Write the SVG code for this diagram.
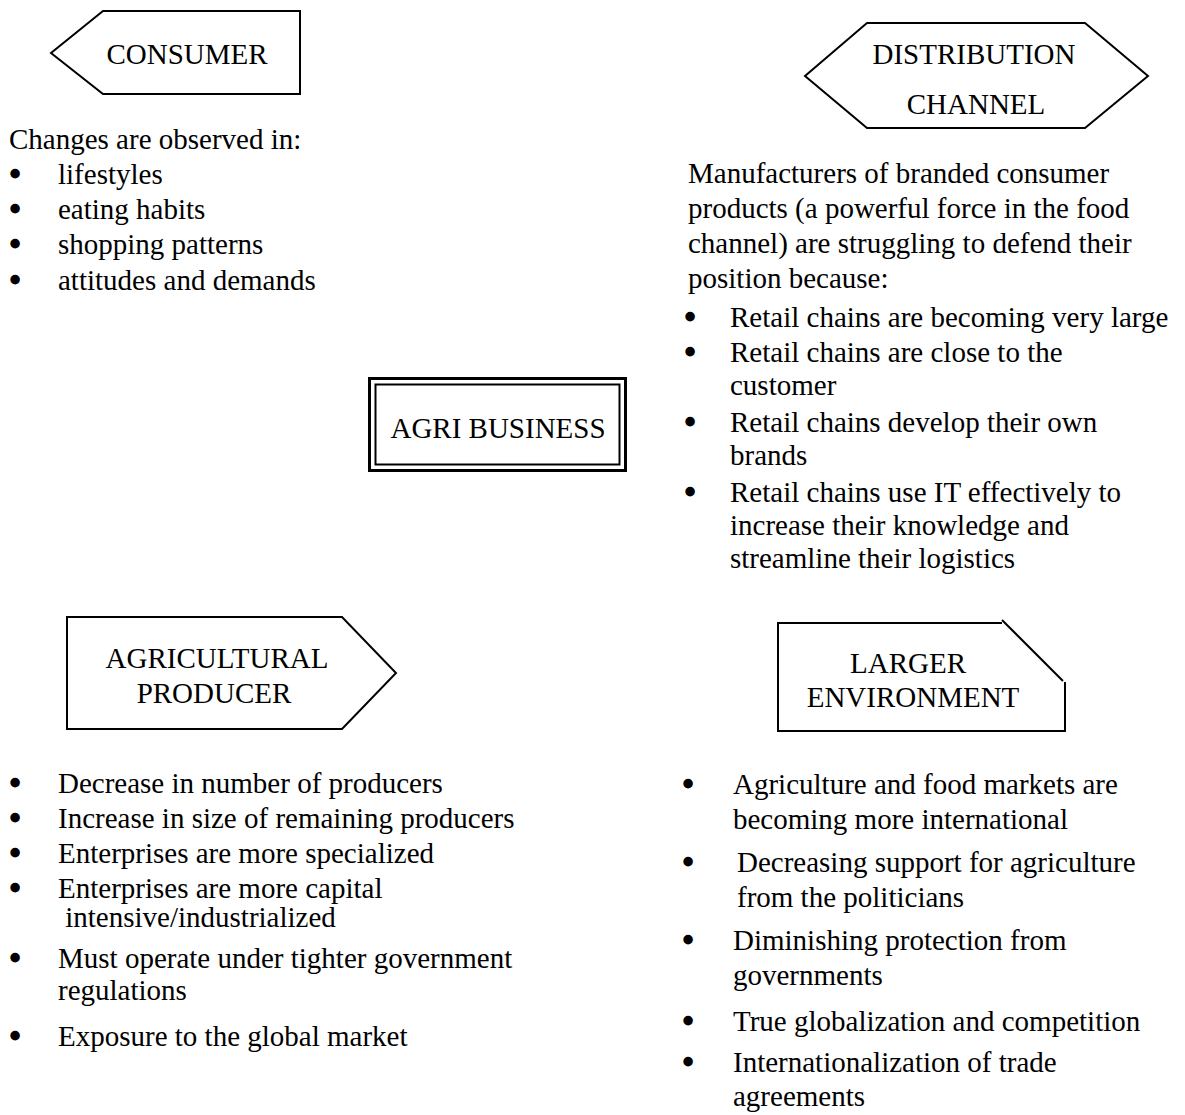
<svg xmlns="http://www.w3.org/2000/svg" width="1185" height="1115" viewBox="0 0 1185 1115">
<style>
  text { font-family: "Liberation Serif", "Times New Roman", serif; font-size: 29px; fill: #000; }
  .c { text-anchor: middle; }
  .b { text-anchor: middle; stroke: #000; stroke-width: 2.6; }
  .shape { fill: #fff; stroke: #000; stroke-width: 2; stroke-linejoin: miter; }
  .edge { fill: none; stroke: #000; stroke-width: 2; }
</style>
<rect width="1185" height="1115" fill="#fff"/>

<g id="consumer">
  <polygon class="shape" points="103,11 300,11 300,94 103,94 51,53"/>
  <text class="c" x="187" y="64">CONSUMER</text>
</g>

<g id="distribution-channel">
  <polygon class="shape" points="867,23 1085,23 1148,76 1085,128 867,128 805,76"/>
  <text class="c" x="974" y="64">DISTRIBUTION</text>
  <text class="c" x="976" y="114">CHANNEL</text>
</g>

<g id="agri-business">
  <rect x="369.5" y="378.5" width="256" height="92" fill="#fff" stroke="#000" stroke-width="3"/>
  <rect x="375.5" y="384.5" width="244" height="80" fill="none" stroke="#000" stroke-width="2"/>
  <text class="c" x="498" y="438">AGRI BUSINESS</text>
</g>

<g id="agricultural-producer">
  <polygon class="shape" points="67,617 342,617 396,673 342,729 67,729"/>
  <text class="c" x="217" y="668">AGRICULTURAL</text>
  <text class="c" x="214" y="703">PRODUCER</text>
</g>

<g id="larger-environment">
  <polygon points="778,623 1003,623 1064,682 1064,731 778,731" fill="#fff" stroke="none"/>
  <path class="edge" d="M1002,623 L778,623 L778,731 L1065,731 L1065,682"/>
  <path class="edge" d="M1002,620 L1063,681"/>
  <text class="c" x="908" y="673">LARGER</text>
  <text class="c" x="913" y="707">ENVIRONMENT</text>
</g>

<g id="connectors"></g>

<g id="consumer-notes">
  <text x="9" y="149">Changes are observed in:</text>
  <text class="b" x="15" y="184">•</text><text x="58" y="184">lifestyles</text>
  <text class="b" x="15" y="219">•</text><text x="58" y="219">eating habits</text>
  <text class="b" x="15" y="254">•</text><text x="58" y="254">shopping patterns</text>
  <text class="b" x="15" y="290">•</text><text x="58" y="290">attitudes and demands</text>
</g>

<g id="distribution-notes">
  <text x="688" y="183">Manufacturers of branded consumer</text>
  <text x="688" y="218">products (a powerful force in the food</text>
  <text x="688" y="253">channel) are struggling to defend their</text>
  <text x="688" y="288">position because:</text>
  <text class="b" x="690" y="327">•</text><text x="730" y="327">Retail chains are becoming very large</text>
  <text class="b" x="690" y="362">•</text><text x="730" y="362">Retail chains are close to the</text>
  <text x="730" y="395">customer</text>
  <text class="b" x="690" y="432">•</text><text x="730" y="432">Retail chains develop their own</text>
  <text x="730" y="465">brands</text>
  <text class="b" x="690" y="502">•</text><text x="730" y="502">Retail chains use IT effectively to</text>
  <text x="730" y="535">increase their knowledge and</text>
  <text x="730" y="568">streamline their logistics</text>
</g>

<g id="producer-notes">
  <text class="b" x="15" y="793">•</text><text x="58" y="793">Decrease in number of producers</text>
  <text class="b" x="15" y="828">•</text><text x="58" y="828">Increase in size of remaining producers</text>
  <text class="b" x="15" y="863">•</text><text x="58" y="863">Enterprises are more specialized</text>
  <text class="b" x="15" y="898">•</text><text x="58" y="898">Enterprises are more capital</text>
  <text x="58" y="927" xml:space="preserve"> intensive/industrialized</text>
  <text class="b" x="15" y="968">•</text><text x="58" y="968">Must operate under tighter government</text>
  <text x="58" y="1000">regulations</text>
  <text class="b" x="15" y="1046">•</text><text x="58" y="1046">Exposure to the global market</text>
</g>

<g id="environment-notes">
  <text class="b" x="688" y="794">•</text><text x="733" y="794">Agriculture and food markets are</text>
  <text x="733" y="829">becoming more international</text>
  <text class="b" x="688" y="872">•</text><text x="737" y="872">Decreasing support for agriculture</text>
  <text x="737" y="907">from the politicians</text>
  <text class="b" x="688" y="950">•</text><text x="733" y="950">Diminishing protection from</text>
  <text x="733" y="985">governments</text>
  <text class="b" x="688" y="1031">•</text><text x="733" y="1031">True globalization and competition</text>
  <text class="b" x="688" y="1072">•</text><text x="733" y="1072">Internationalization of trade</text>
  <text x="733" y="1106">agreements</text>
</g>
</svg>
